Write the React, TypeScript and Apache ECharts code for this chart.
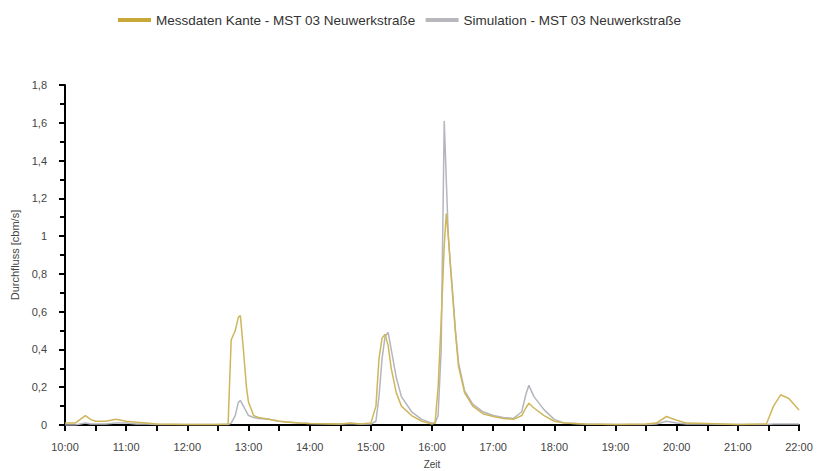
import React, { useEffect, useRef } from "react";
import * as echarts from "echarts";

const legendNames = ["Messdaten Kante - MST 03 Neuwerkstraße", "Simulation - MST 03 Neuwerkstraße"];
const times = [
  "10:00", "10:10", "10:15", "10:20", "10:25", "10:30", "10:40", "10:50", "11:00", "11:10",
  "11:20", "11:30", "12:00", "12:30", "12:40", "12:43", "12:47", "12:50", "12:52", "12:55",
  "12:58", "13:00", "13:05", "13:10", "13:20", "13:30", "13:40", "13:50", "14:00", "14:30",
  "14:40", "14:50", "15:00", "15:05", "15:08", "15:11", "15:14", "15:17", "15:20", "15:25",
  "15:30", "15:40", "15:50", "16:00", "16:03", "16:06", "16:09", "16:12", "16:14", "16:16",
  "16:18", "16:20", "16:23", "16:26", "16:32", "16:40", "16:50", "17:00", "17:10", "17:20",
  "17:28", "17:32", "17:35", "17:40", "17:50", "18:00", "18:10", "18:30", "19:00", "19:30",
  "19:40", "19:50", "20:00", "20:10", "20:30", "21:00", "21:28", "21:35", "21:42", "21:50",
  "22:00",
];
const messdaten = [
  0.01, 0.01, 0.03, 0.05, 0.03, 0.02, 0.02, 0.03, 0.02, 0.015,
  0.01, 0.005, 0.003, 0.003, 0.005, 0.45, 0.5, 0.57, 0.58, 0.4,
  0.2, 0.12, 0.05, 0.04, 0.03, 0.02, 0.015, 0.01, 0.008, 0.005,
  0.01, 0.005, 0.01, 0.1, 0.35, 0.46, 0.48, 0.42, 0.3, 0.17,
  0.1, 0.05, 0.02, 0.005, 0.01, 0.2, 0.55, 0.95, 1.12, 1.0,
  0.85, 0.7, 0.49, 0.31, 0.17, 0.1, 0.06, 0.045, 0.035, 0.03,
  0.05, 0.09, 0.115, 0.09, 0.05, 0.02, 0.01, 0.005, 0.003, 0.005,
  0.01, 0.045, 0.025, 0.01, 0.008, 0.003, 0.005, 0.1, 0.16, 0.14,
  0.08,
];
const simulation = [
  0.0, 0.0, 0.005, 0.01, 0.005, 0.005, 0.005, 0.01, 0.01, 0.005,
  0.005, 0.003, 0.002, 0.002, 0.002, 0.01, 0.05, 0.12, 0.13, 0.1,
  0.07, 0.05, 0.04, 0.035, 0.03, 0.02, 0.015, 0.01, 0.008, 0.005,
  0.008, 0.005, 0.005, 0.02, 0.15, 0.35, 0.47, 0.49, 0.4, 0.25,
  0.15, 0.07, 0.03, 0.01, 0.01, 0.05, 0.4, 1.61, 1.3, 1.0,
  0.85, 0.72, 0.5, 0.33, 0.18, 0.11, 0.07, 0.05, 0.04, 0.035,
  0.07, 0.16, 0.21, 0.15, 0.08, 0.03, 0.01, 0.005, 0.003, 0.003,
  0.005, 0.02, 0.01, 0.005, 0.005, 0.003, 0.003, 0.005, 0.005, 0.005,
  0.005,
];

const toHours = (s: string) => {
  const [h, m] = s.split(":").map(Number);
  return h + m / 60;
};

export default function App() {
  const ref = useRef<HTMLDivElement>(null);
  useEffect(() => {
    if (!ref.current) return;
    const chart = echarts.init(ref.current, undefined, { renderer: "svg" });
    const font = "Liberation Sans, Arial, sans-serif";
    chart.setOption({
      animation: false,
      textStyle: { fontFamily: font },
      legend: {
        top: 8,
        left: 113,
        itemWidth: 33,
        itemHeight: 4,
        itemGap: 10,
        icon: "rect",
        textStyle: { fontSize: 13.5, color: "#333", fontFamily: font },
        data: legendNames,
      },
      grid: { left: 65, right: 19, top: 85, bottom: 46, outerBoundsMode: "none", containLabel: false },
      xAxis: {
        type: "value",
        min: 10,
        max: 22,
        interval: 0.5,
        name: "Zeit",
        nameLocation: "middle",
        nameGap: 34,
        nameTextStyle: { fontSize: 10, color: "#444" },
        axisLine: { lineStyle: { color: "#000", width: 2 } },
        axisTick: { length: 6, lineStyle: { color: "#000", width: 2 } },
        axisLabel: {
          fontSize: 11,
          color: "#444",
          margin: 16,
          formatter: (v: number) => {
            if (Math.abs(v - Math.round(v)) > 0.01) return "";
            return `${Math.round(v)}:00`;
          },
        },
        splitLine: { show: false },
      },
      yAxis: {
        type: "value",
        min: 0,
        max: 1.8,
        interval: 0.2,
        name: "Durchfluss [cbm/s]",
        nameLocation: "middle",
        nameGap: 45,
        nameTextStyle: { fontSize: 11, color: "#444" },
        axisLine: { show: true, lineStyle: { color: "#000", width: 2 } },
        axisTick: { show: true, length: 6, lineStyle: { color: "#000", width: 2 } },
        minorTick: { show: true, splitNumber: 2, length: 5, lineStyle: { color: "#000", width: 2 } },
        axisLabel: {
          fontSize: 11,
          color: "#444",
          margin: 18,
          formatter: (v: number) => String(Math.round(v * 10) / 10).replace(".", ","),
        },
        splitLine: { show: false },
      },
      series: [
        {
          name: legendNames[0],
          type: "line",
          showSymbol: false,
          data: times.map((t, i) => [toHours(t), messdaten[i]]),
          lineStyle: { color: "#cfb65a", width: 1.5 },
          itemStyle: { color: "#c9a83a" },
          z: 3,
        },
        {
          name: legendNames[1],
          type: "line",
          showSymbol: false,
          data: times.map((t, i) => [toHours(t), simulation[i]]),
          lineStyle: { color: "#b4b6be", width: 1.5 },
          itemStyle: { color: "#b8b8bc" },
          z: 2,
        },
      ],
    });
    return () => chart.dispose();
  }, []);
  return <div ref={ref} style={{ width: 818, height: 471, position: "absolute", left: 0, top: 0 }} />;
}
